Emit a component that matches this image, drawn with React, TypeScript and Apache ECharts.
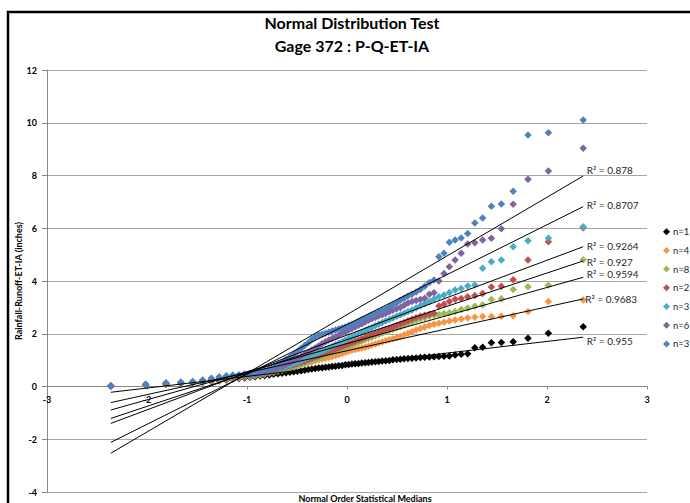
import React, { useEffect, useRef } from "react";
import * as echarts from "echarts";

const xMedians = [
  -2.362, -2.014, -1.81, -1.662, -1.544, -1.444, -1.356, -1.278, -1.207, -1.142, -1.081, -1.024,
  -0.97, -0.919, -0.87, -0.823, -0.777, -0.734, -0.691, -0.65, -0.61, -0.571, -0.533, -0.496,
  -0.459, -0.423, -0.387, -0.352, -0.317, -0.283, -0.249, -0.215, -0.182, -0.148, -0.115, -0.082,
  -0.049, -0.016, 0.016, 0.049, 0.082, 0.115, 0.148, 0.182, 0.215, 0.249, 0.283, 0.317,
  0.352, 0.387, 0.423, 0.459, 0.496, 0.533, 0.571, 0.61, 0.65, 0.691, 0.734, 0.777,
  0.823, 0.87, 0.919, 0.97, 1.024, 1.081, 1.142, 1.207, 1.278, 1.356, 1.444, 1.544,
  1.662, 1.81, 2.014, 2.362,
];

const blackValues = [
  0.01, 0.05, 0.08, 0.11, 0.13, 0.16, 0.19, 0.22, 0.25, 0.28, 0.3, 0.32,
  0.35, 0.37, 0.4, 0.42, 0.44, 0.46, 0.48, 0.5, 0.52, 0.54, 0.56, 0.58,
  0.6, 0.62, 0.64, 0.66, 0.68, 0.7, 0.71, 0.73, 0.74, 0.76, 0.77, 0.79, 0.8, 0.82,
  0.83, 0.85, 0.86, 0.87, 0.89, 0.9, 0.91, 0.93, 0.94, 0.95, 0.97, 0.98,
  0.99, 1.01, 1.02, 1.03, 1.05, 1.06, 1.07, 1.08, 1.1, 1.11, 1.12, 1.13,
  1.14, 1.15, 1.16, 1.19, 1.22, 1.24, 1.47, 1.49, 1.66, 1.67, 1.7, 1.83, 2.02, 2.27,
];
const orangeValues = [
  0.02, 0.05, 0.08, 0.11, 0.14, 0.17, 0.2, 0.24, 0.27, 0.3, 0.32, 0.35,
  0.38, 0.41, 0.44, 0.47, 0.51, 0.55, 0.59, 0.62, 0.66, 0.7, 0.74, 0.78,
  0.82, 0.86, 0.9, 0.94, 0.98, 1.01, 1.04, 1.07, 1.1, 1.13, 1.17, 1.21, 1.25, 1.3,
  1.34, 1.37, 1.4, 1.43, 1.46, 1.49, 1.53, 1.57, 1.61, 1.65, 1.69, 1.73,
  1.77, 1.81, 1.85, 1.9, 1.96, 2.02, 2.08, 2.14, 2.2, 2.26, 2.31, 2.36,
  2.4, 2.44, 2.48, 2.52, 2.56, 2.6, 2.63, 2.65, 2.65, 2.66, 2.68, 2.84, 3.22, 3.28,
];
const greenValues = [
  0.02, 0.06, 0.09, 0.12, 0.15, 0.18, 0.22, 0.26, 0.29, 0.32, 0.34, 0.36,
  0.38, 0.41, 0.44, 0.47, 0.5, 0.54, 0.58, 0.62, 0.66, 0.7, 0.74, 0.78,
  0.82, 0.87, 0.92, 0.97, 1.02, 1.07, 1.12, 1.17, 1.22, 1.27, 1.32, 1.37, 1.42, 1.47,
  1.52, 1.57, 1.62, 1.67, 1.72, 1.77, 1.82, 1.87, 1.92, 1.97, 2.02, 2.07,
  2.12, 2.17, 2.22, 2.27, 2.33, 2.39, 2.45, 2.51, 2.56, 2.61, 2.66, 2.7,
  2.73, 2.77, 2.8, 2.84, 2.92, 2.98, 3.04, 3.09, 3.3, 3.33, 3.68, 3.78, 3.84, 4.81,
];
const redValues = [
  0.02, 0.07, 0.1, 0.13, 0.16, 0.2, 0.24, 0.28, 0.31, 0.34, 0.36, 0.38,
  0.4, 0.43, 0.46, 0.49, 0.53, 0.57, 0.61, 0.66, 0.71, 0.76, 0.81, 0.86,
  0.91, 0.96, 1.01, 1.06, 1.11, 1.16, 1.21, 1.26, 1.31, 1.36, 1.41, 1.46, 1.51, 1.56,
  1.61, 1.66, 1.71, 1.76, 1.81, 1.86, 1.91, 1.96, 2.01, 2.06, 2.11, 2.16,
  2.21, 2.26, 2.31, 2.37, 2.43, 2.49, 2.55, 2.61, 2.66, 2.7, 2.74, 2.78,
  3.05, 3.12, 3.22, 3.31, 3.34, 3.4, 3.45, 3.53, 3.77, 3.8, 4.05, 4.8, 5.49, 6.02,
];
const cyanValues = [
  0.02, 0.07, 0.11, 0.14, 0.17, 0.21, 0.25, 0.29, 0.33, 0.36, 0.38, 0.4,
  0.42, 0.45, 0.48, 0.51, 0.55, 0.59, 0.64, 0.69, 0.74, 0.8, 0.86, 0.92,
  0.98, 1.04, 1.1, 1.16, 1.22, 1.28, 1.34, 1.4, 1.46, 1.52, 1.58, 1.64, 1.7, 1.76,
  1.82, 1.88, 1.94, 2.0, 2.06, 2.12, 2.18, 2.24, 2.3, 2.36, 2.42, 2.48,
  2.54, 2.6, 2.66, 2.72, 2.78, 2.84, 2.9, 2.98, 3.06, 3.14, 3.22, 3.32,
  3.4, 3.47, 3.56, 3.66, 3.72, 3.81, 3.85, 4.48, 4.73, 4.8, 5.3, 5.53, 5.62, 6.06,
];
const purpleValues = [
  0.02, 0.08, 0.12, 0.15, 0.18, 0.22, 0.27, 0.32, 0.36, 0.38, 0.4, 0.42,
  0.44, 0.47, 0.5, 0.54, 0.58, 0.63, 0.69, 0.76, 0.83, 0.9, 0.98, 1.06,
  1.14, 1.22, 1.3, 1.38, 1.46, 1.54, 1.62, 1.7, 1.76, 1.82, 1.88, 1.95, 2.02, 2.08,
  2.14, 2.2, 2.26, 2.32, 2.38, 2.45, 2.51, 2.57, 2.62, 2.67, 2.72, 2.77,
  2.83, 2.89, 2.95, 3.0, 3.08, 3.17, 3.22, 3.26, 3.3, 3.35, 3.5, 3.55,
  4.0, 4.28, 4.54, 4.8, 5.05, 5.4, 5.45, 5.55, 5.62, 5.98, 6.91, 7.86, 8.17, 9.03,
];
const blueValues = [
  0.03, 0.09, 0.14, 0.17, 0.19, 0.25, 0.31, 0.37, 0.41, 0.44, 0.45, 0.47,
  0.5, 0.53, 0.57, 0.62, 0.68, 0.76, 0.84, 0.92, 1.02, 1.12, 1.22, 1.33,
  1.44, 1.55, 1.66, 1.78, 1.88, 1.95, 1.98, 2.02, 2.06, 2.1, 2.14, 2.18, 2.22, 2.26,
  2.3, 2.34, 2.4, 2.46, 2.52, 2.58, 2.64, 2.7, 2.76, 2.82, 2.88, 2.94,
  3.02, 3.1, 3.18, 3.27, 3.35, 3.43, 3.5, 3.58, 3.68, 3.8, 3.94, 4.04,
  4.92, 5.05, 5.47, 5.55, 5.63, 5.8, 6.2, 6.39, 6.83, 6.92, 7.4, 9.54, 9.62, 10.1,
];

const seriesLabels = ["n=1", "n=4", "n=8", "n=2", "n=3", "n=6", "n=3"];
const seriesValues = [blackValues, orangeValues, greenValues, redValues, cyanValues, purpleValues, blueValues];
const seriesColors = ["#000000", "#F79646", "#9BBB59", "#C0504D", "#4BACC6", "#8064A2", "#4F81BD"];

// Linear trendlines and their R² labels
const trendSlopes = [0.442, 0.832, 1.065, 1.264, 1.418, 1.892, 2.225];
const trendIntercepts = [0.825, 1.355, 1.625, 1.775, 1.95, 2.35, 2.725];
const trendR2 = ["0.955", "0.9683", "0.9594", "0.927", "0.9264", "0.8707", "0.878"];
const r2LabelOffsets = [[0, 4], [-1.5, 0], [0, -3], [0, 1], [0, -1], [0, -2], [0, -6]];

const FONT = 'Lato, "Liberation Sans", sans-serif';

function buildOption() {
  const names = seriesLabels.map((l, i) => `${l}#${i}`);
  const xFirst = xMedians[0];
  const xLast = xMedians[xMedians.length - 1];

  const scatterSeries = seriesValues.map((vals, i) => ({
    type: "scatter",
    name: names[i],
    data: xMedians.map((x, k) => [x, vals[k]]),
    symbol: "diamond",
    symbolSize: 7.5,
    itemStyle: { color: seriesColors[i], opacity: 1 },
    z: 2,
    silent: true,
  }));

  const trendSeries = trendSlopes.map((b, i) => ({
    type: "line",
    name: `trend${i}`,
    data: [
      [xFirst, trendIntercepts[i] + b * xFirst],
      [xLast, trendIntercepts[i] + b * xLast],
    ],
    symbol: "none",
    lineStyle: { color: "#000", width: 1 },
    z: 3,
    silent: true,
    endLabel: {
      show: true,
      formatter: `R\u00B2 = ${trendR2[i]}`,
      fontFamily: FONT,
      fontSize: 10,
      color: "#262626",
      distance: 3.5,
      offset: r2LabelOffsets[i],
    },
  }));

  const boldAxisText = { color: "#000", fontWeight: "bold", fontSize: 9, fontFamily: FONT };

  return {
    animation: false,
    backgroundColor: "#ffffff",
    textStyle: { fontFamily: FONT },
    grid: { left: 47, right: 43, top: 70, bottom: 11, containLabel: false },
    xAxis: {
      type: "value",
      min: -3,
      max: 3,
      interval: 1,
      position: "bottom",
      // the axis crosses the value axis at y = 0 (grid height 422 px for 16 units => 4 units = 105.5 px)
      offset: -105.5,
      axisLine: { show: true, onZero: false, lineStyle: { color: "#868686", width: 1 } },
      axisTick: { show: true, length: 3, lineStyle: { color: "#868686" } },
      axisLabel: { ...boldAxisText, margin: 8 },
      splitLine: { show: false },
    },
    yAxis: {
      type: "value",
      min: -4,
      max: 12,
      interval: 2,
      name: "Rainfall-Runoff-ET-IA (inches)",
      nameLocation: "middle",
      nameRotate: 90,
      nameGap: 24,
      nameMoveOverlap: false,
      nameTextStyle: { ...boldAxisText },
      axisLine: { show: true, onZero: false, lineStyle: { color: "#868686", width: 1 } },
      axisTick: { show: true, length: 5, lineStyle: { color: "#868686" } },
      axisLabel: { ...boldAxisText, margin: 10 },
      splitLine: { show: true, lineStyle: { color: "#a6a6a6", width: 1 } },
    },
    legend: {
      orient: "vertical",
      left: 663,
      top: 226.7,
      padding: 0,
      itemWidth: 7,
      itemHeight: 7,
      itemGap: 8.7,
      icon: "diamond",
      selectedMode: false,
      data: names,
      formatter: (n: string) => n.split("#")[0],
      textStyle: { fontSize: 9.5, color: "#262626", fontFamily: FONT, padding: [0, 0, 0, -2] },
    },
    graphic: [
      {
        type: "rect",
        shape: { x: 8, y: 12, width: 720, height: 620 },
        style: { fill: "none", stroke: "#000", lineWidth: 2.5 },
        silent: true,
        z: 100,
      },
      {
        type: "text",
        x: 352,
        y: 22,
        style: {
          text: "Normal Distribution Test",
          fontFamily: FONT,
          fontSize: 16,
          fontWeight: "bold",
          fill: "#000",
          textAlign: "center",
          textVerticalAlign: "middle",
          verticalAlign: "middle",
        },
      },
      {
        type: "text",
        x: 352,
        y: 45,
        style: {
          text: "Gage 372 : P-Q-ET-IA",
          fontFamily: FONT,
          fontSize: 16,
          fontWeight: "bold",
          fill: "#000",
          textAlign: "center",
          textVerticalAlign: "middle",
          verticalAlign: "middle",
        },
      },
      {
        type: "text",
        x: 365,
        y: 498,
        style: {
          text: "Normal Order Statistical Medians",
          fontFamily: FONT,
          fontSize: 9,
          fontWeight: "bold",
          fill: "#000",
          textAlign: "center",
          textVerticalAlign: "middle",
          verticalAlign: "middle",
        },
      },
    ],
    series: [...scatterSeries, ...trendSeries],
  };
}

export default function App() {
  const ref = useRef<HTMLDivElement>(null);
  useEffect(() => {
    if (!ref.current) return;
    const chart = echarts.init(ref.current, null, { renderer: "svg" });
    chart.setOption(buildOption() as any);
    return () => chart.dispose();
  }, []);
  return (
    <div
      ref={ref}
      style={{ position: "fixed", left: 0, top: 0, width: 690, height: 503, background: "#fff" }}
    />
  );
}
